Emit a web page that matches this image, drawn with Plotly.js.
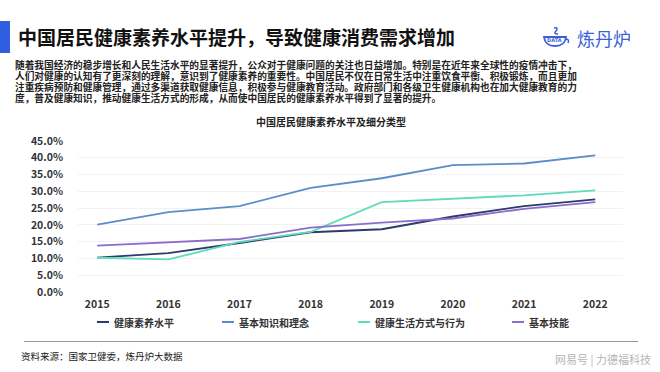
<!DOCTYPE html>
<html>
<head>
<meta charset="utf-8">
<script src="https://cdn.plot.ly/plotly-3.0.1.min.js"></script>
<style>
  html, body { margin: 0; padding: 0; background: #fff; }
  #wrap { position: relative; width: 660px; height: 372px; overflow: hidden; font-family: "Noto Sans CJK SC", "Noto Sans", sans-serif; }
  #chart { position: absolute; left: 0; top: 0; width: 660px; height: 372px; }
  .bar { position: absolute; left: 0; top: 21px; width: 10px; height: 32px; background: #2f5fe0; }
  .title { position: absolute; left: 18px; top: 24px; font-size: 19px; font-weight: bold; color: #111; line-height: 26px; white-space: nowrap; }
  .logo { position: absolute; left: 577px; top: 26px; font-size: 18px; color: #3a5fd8; line-height: 24px; white-space: nowrap; }
  .pl { position: absolute; left: 15px; font-size: 9.7px; font-weight: bold; color: #222; line-height: 11px; height: 11px; white-space: nowrap; }
  .rule { position: absolute; left: 24px; top: 341px; width: 614px; height: 1px; background: #9a9a9a; }
  .src { position: absolute; left: 21px; top: 349px; font-size: 9.5px; color: #222; line-height: 14px; white-space: nowrap; }
  .wm { position: absolute; left: 555px; top: 352px; font-size: 11px; color: #b5b5b5; line-height: 14px; white-space: nowrap; }
</style>
</head>
<body>
<div id="wrap">
  <div id="chart"></div>
  <div class="bar"></div>
  <div class="title">中国居民健康素养水平提升，导致健康消费需求增加</div>
  <svg style="position:absolute;left:541px;top:26px" width="30" height="22" viewBox="0 0 30 22">
    <path d="M13 2 Q18 1 15 5 Q12 8 17 8" stroke="#3a5fd8" stroke-width="1.6" fill="none"/>
    <path d="M3 11 Q4 20 14 20 Q24 20 25 11 Z" fill="none" stroke="#3a5fd8" stroke-width="1.8"/>
    <path d="M24 13 Q29 13 27 17" stroke="#3a5fd8" stroke-width="1.5" fill="none"/>
    <text x="6" y="16" font-size="5" fill="#3a5fd8" font-family="DejaVu Sans" font-weight="bold">DATA</text>
  </svg>
  <div class="logo">炼丹炉</div>
  <div class="pl" style="top:59.5px">随着我国经济的稳步增长和人民生活水平的显著提升，公众对于健康问题的关注也日益增加。特别是在近年来全球性的疫情冲击下，</div>
  <div class="pl" style="top:70.8px">人们对健康的认知有了更深刻的理解，意识到了健康素养的重要性。中国居民不仅在日常生活中注重饮食平衡、积极锻炼，而且更加</div>
  <div class="pl" style="top:82.1px">注重疾病预防和健康管理，通过多渠道获取健康信息，积极参与健康教育活动。政府部门和各级卫生健康机构也在加大健康教育的力</div>
  <div class="pl" style="top:93.4px">度，普及健康知识，推动健康生活方式的形成，从而使中国居民的健康素养水平得到了显著的提升。</div>
  <div class="rule"></div>
  <div class="src">资料来源：国家卫健委，炼丹炉大数据</div>
  <div class="wm">网易号 | 力德福科技</div>
</div>
<script>
const years = ["2015", "2016", "2017", "2018", "2019", "2020", "2021", "2022"];
const seriesNames = ["健康素养水平", "基本知识和理念", "健康生活方式与行为", "基本技能"];
const literacy  = [10.25, 11.6, 14.6, 17.8, 18.7, 22.5, 25.6, 27.6];
const knowledge = [20.1, 23.8, 25.6, 31.0, 33.9, 37.8, 38.3, 40.7];
const lifestyle = [10.2, 9.7, 14.9, 17.9, 26.8, 27.8, 28.8, 30.3];
const skills    = [13.8, 14.7, 15.8, 19.2, 20.7, 21.9, 24.8, 26.8];
const colors = ["#2d3a6c", "#5b8ec8", "#5fdcba", "#8b6dcc"];
const values = [literacy, knowledge, lifestyle, skills];

const FONT = '"Noto Sans CJK SC", "Noto Sans", sans-serif';
const L = 78, R = 623, T = 141, B = 292;
const px2x = p => (p - L) / (R - L);
const py2y = p => (B - p) / (B - T);

const traces = seriesNames.map((n, i) => ({
  type: 'scatter', mode: 'lines', name: n, x: years, y: values[i],
  line: { color: colors[i], width: 1.8 }, hoverinfo: 'x+y+name'
}));

const legendLine = [97, 222, 358, 512];
const shapes = [], annotations = [];
seriesNames.forEach((n, i) => {
  shapes.push({ type: 'line', xref: 'paper', yref: 'paper',
    x0: px2x(legendLine[i]), x1: px2x(legendLine[i] + 12), y0: py2y(322), y1: py2y(322),
    line: { color: colors[i], width: 2 } });
  annotations.push({ xref: 'paper', yref: 'paper', x: px2x(legendLine[i] + 15), y: py2y(322),
    xanchor: 'left', yanchor: 'middle', showarrow: false, text: n,
    font: { family: FONT, size: 10, color: '#333', weight: 'bold' } });
});

const layout = {
  width: 660, height: 372,
  margin: { l: L, r: 660 - R, t: T, b: 372 - B, pad: 0 },
  paper_bgcolor: 'rgba(0,0,0,0)', plot_bgcolor: 'rgba(0,0,0,0)',
  showlegend: false,
  title: { text: '中国居民健康素养水平及细分类型', x: 331 / 660, xanchor: 'center', y: 1 - 122 / 372, yanchor: 'middle',
    font: { family: FONT, size: 10, color: '#222', weight: 'bold' } },
  xaxis: { type: 'category', range: [-0.27, 7.39], showgrid: false, zeroline: false, showline: false,
    ticks: '', tickfont: { family: FONT, size: 10.5, color: '#333', weight: 'bold' }, ticklabelstandoff: 4 },
  yaxis: { range: [0, 45], dtick: 5, tick0: 0, tickformat: '.1f', ticksuffix: '%', showgrid: true, gridcolor: '#f2f2f2', gridwidth: 1,
    zeroline: false, showline: false, ticks: '', tickfont: { family: FONT, size: 10.5, color: '#333', weight: 'bold' }, ticklabelstandoff: 14 },
  shapes: shapes, annotations: annotations,
  font: { family: FONT }
};

Plotly.newPlot('chart', traces, layout, { displayModeBar: false, staticPlot: true });
</script>
</body>
</html>
